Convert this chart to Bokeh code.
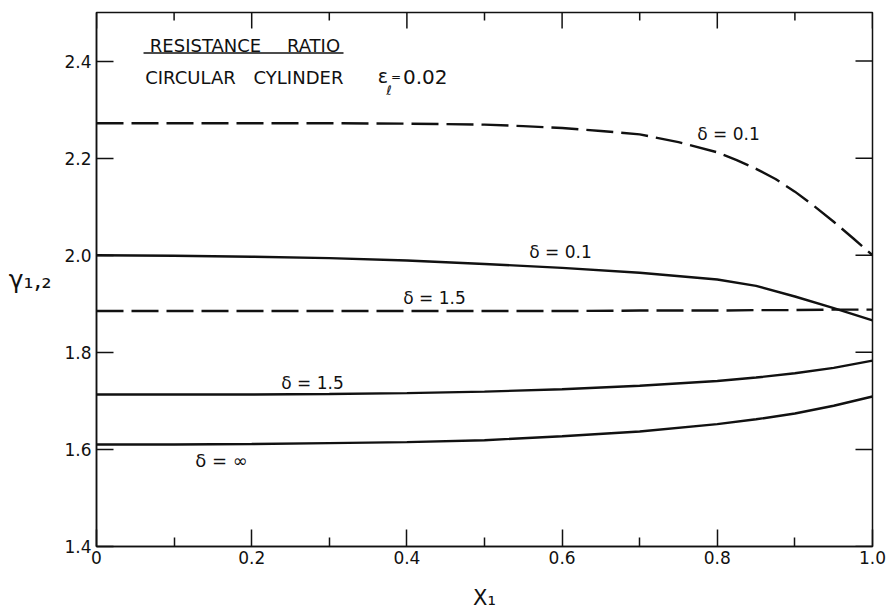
from bokeh.plotting import figure
from bokeh.models import Range1d, FixedTicker, LinearAxis, Label, PrintfTickFormatter
from bokeh.embed import file_html
from bokeh.resources import INLINE

# ---- data ----
x_d01_dash = [0.0, 0.1, 0.2, 0.3, 0.4, 0.5, 0.55, 0.6, 0.65, 0.7, 0.75, 0.8, 0.825, 0.85, 0.875, 0.9, 0.925, 0.95, 0.975, 1.0]
y_d01_dash = [2.272, 2.272, 2.272, 2.272, 2.271, 2.269, 2.266, 2.262, 2.256, 2.249, 2.233, 2.212, 2.196, 2.178, 2.157, 2.131, 2.101, 2.069, 2.035, 2.000]

x_pts = [0.0, 0.1, 0.2, 0.3, 0.4, 0.5, 0.6, 0.7, 0.8, 0.85, 0.9, 0.95, 1.0]
y_d15_dash = [1.885, 1.885, 1.885, 1.885, 1.885, 1.885, 1.885, 1.886, 1.886, 1.887, 1.887, 1.888, 1.888]
y_d01_solid = [2.000, 1.999, 1.997, 1.994, 1.989, 1.982, 1.974, 1.964, 1.950, 1.937, 1.915, 1.891, 1.866]
y_d15_solid = [1.713, 1.713, 1.713, 1.714, 1.716, 1.719, 1.724, 1.731, 1.741, 1.748, 1.757, 1.768, 1.783]
y_dinf_solid = [1.610, 1.610, 1.611, 1.613, 1.615, 1.619, 1.627, 1.637, 1.652, 1.662, 1.674, 1.690, 1.709]

x_major = [0.0, 0.2, 0.4, 0.6, 0.8, 1.0]
x_minor = [0.1, 0.3, 0.5, 0.7, 0.9]
y_major = [1.4, 1.6, 1.8, 2.0, 2.2, 2.4]

FONT = "DejaVu Sans"
INK = "#111111"

p = figure(width=887, height=614, output_backend="svg", toolbar_location=None,
           x_range=Range1d(0, 1), y_range=Range1d(1.4, 2.5),
           x_axis_location=None, y_axis_location=None,
           min_border_left=96, min_border_right=15, min_border_top=12, min_border_bottom=68)
p.grid.visible = False
p.background_fill_color = "white"
p.border_fill_color = "white"
p.outline_line_color = INK
p.outline_line_width = 1.5

def style_axis(ax):
    ax.axis_line_color = INK
    ax.axis_line_width = 1.5
    ax.major_tick_line_color = INK
    ax.minor_tick_line_color = INK
    ax.major_tick_line_width = 1.5
    ax.minor_tick_line_width = 1.5
    ax.major_tick_out = 0
    ax.minor_tick_out = 0
    ax.major_label_text_font = FONT
    ax.major_label_text_color = INK
    ax.major_label_text_font_size = "17px"
    ax.axis_label_text_font = FONT
    ax.axis_label_text_color = INK
    ax.axis_label_text_font_style = "normal"

# bottom
bx = LinearAxis(ticker=FixedTicker(ticks=x_major, minor_ticks=x_minor),
                formatter=PrintfTickFormatter(format="%.1f"))
style_axis(bx)
bx.major_tick_in = 17
bx.minor_tick_in = 9
bx.major_label_standoff = 4
bx.major_label_overrides = {0: "0"}
bx.axis_label = "X\u2081"
bx.axis_label_text_font_size = "21px"
bx.axis_label_standoff = 19
p.add_layout(bx, "below")
# left
ly = LinearAxis(ticker=FixedTicker(ticks=y_major, minor_ticks=[]),
                formatter=PrintfTickFormatter(format="%.1f"))
style_axis(ly)
ly.major_tick_in = 17
ly.major_label_standoff = 5
ly.axis_label = "\u03b3\u2081\u201a\u2082"
ly.axis_label_text_font_size = "25px"
ly.axis_label_orientation = "horizontal"
ly.axis_label_standoff = 10
p.add_layout(ly, "left")

# inward ticks on the top and right edges (same tick values as the axes)
y_top = p.y_range.end
x_right = p.x_range.end
px_per_y = 484.0
px_per_x = 776.0
p.segment(x0=x_major, y0=[y_top] * len(x_major), x1=x_major, y1=[y_top - 16 / px_per_y] * len(x_major),
          line_color=INK, line_width=1.5)
p.segment(x0=x_minor, y0=[y_top] * len(x_minor), x1=x_minor, y1=[y_top - 8 / px_per_y] * len(x_minor),
          line_color=INK, line_width=1.5)
p.segment(x0=[x_right] * len(y_major), y0=y_major, x1=[x_right - 17 / px_per_x] * len(y_major), y1=y_major,
          line_color=INK, line_width=1.5)

# curves
lw = 2.4
p.line(x_d01_dash, y_d01_dash, line_color=INK, line_width=lw, line_dash="27 8")
p.line(x_pts, y_d15_dash, line_color=INK, line_width=lw, line_dash="27 8")
p.line(x_pts, y_d01_solid, line_color=INK, line_width=lw)
p.line(x_pts, y_d15_solid, line_color=INK, line_width=lw)
p.line(x_pts, y_dinf_solid, line_color=INK, line_width=lw)

def lab(x, y, t, size="17px", align="center"):
    p.add_layout(Label(x=x, y=y, text=t, text_font=FONT, text_font_size=size,
                       text_color=INK, text_align=align, text_baseline="middle"))

# title block
lab(0.1405, 2.431, "RESISTANCE", "18px")
lab(0.2796, 2.431, "RATIO", "18px")
p.segment(x0=[0.0606], y0=[2.4165], x1=[0.3183], y1=[2.4165], line_color=INK, line_width=1.4)
lab(0.1211, 2.366, "CIRCULAR", "18px")
lab(0.2603, 2.366, "CYLINDER", "18px")
lab(0.369, 2.369, "\u03b5", "19px")
lab(0.377, 2.340, "\u2113", "13px")
lab(0.386, 2.368, "=", "12px")
lab(0.395, 2.367, "0.02", "20px", align="left")

# curve labels
lab(0.8144, 2.249, "\u03b4 = 0.1")
lab(0.598, 2.007, "\u03b4 = 0.1")
lab(0.4356, 1.912, "\u03b4 = 1.5")
lab(0.2784, 1.737, "\u03b4 = 1.5")
lab(0.161, 1.578, "\u03b4 = \u221e", "18px")

open("out.html", "w").write(file_html(p, INLINE))
